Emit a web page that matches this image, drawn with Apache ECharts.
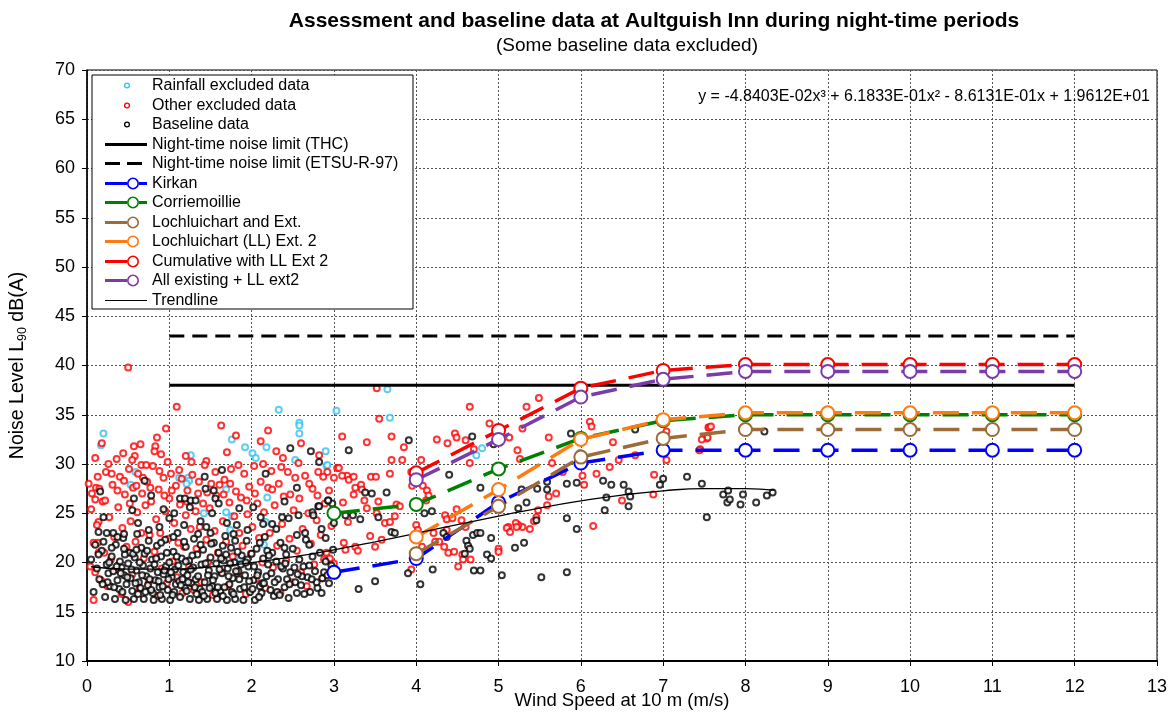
<!DOCTYPE html>
<html>
<head>
<meta charset="utf-8">
<script src="https://cdn.jsdelivr.net/npm/echarts@6/dist/echarts.min.js"></script>
<style>
  html, body { margin: 0; padding: 0; background: #fff; }
  #chart { width: 1171px; height: 713px; }
</style>
</head>
<body>
<div id="chart"></div>
<script>
// ---- Axis ticks ----
const windTicks = [0, 1, 2, 3, 4, 5, 6, 7, 8, 9, 10, 11, 12, 13];
const levelTicks = [10, 15, 20, 25, 30, 35, 40, 45, 50, 55, 60, 65, 70];

// ---- Noise limits (wind speed range and level) ----
const limitSpeeds = [1, 12];
const limitTHC = [38, 38];
const limitETSU = [43, 43];

// ---- Predicted turbine noise at integer wind speeds ----
const assessSpeeds = [3, 4, 5, 6, 7, 8, 9, 10, 11, 12];
const kirkan        = [19.0, 20.4, 26.1, 30.1, 31.4, 31.4, 31.4, 31.4, 31.4, 31.4];
const corriemoillie = [25.0, 25.9, 29.5, 32.6, 34.4, 35.0, 35.0, 35.0, 35.0, 35.0];
const lochluichart  = [null, 20.9, 25.7, 30.7, 32.6, 33.5, 33.5, 33.5, 33.5, 33.5];
const llExt2        = [null, 22.6, 27.4, 32.5, 34.5, 35.2, 35.2, 35.2, 35.2, 35.2];
const cumulative    = [null, 29.1, 33.4, 37.7, 39.5, 40.1, 40.1, 40.1, 40.1, 40.1];
const allExisting   = [null, 28.4, 32.5, 36.8, 38.6, 39.4, 39.4, 39.4, 39.4, 39.4];

// ---- Trendline: the fitted cubic from the equation label, tabulated ----
const trendEquation = 'y = -4.8403E-02x\u00B3 + 6.1833E-01x\u00B2 - 8.6131E-01x + 1.9612E+01';
const trendSpeeds = [0.05, 0.5, 1, 1.5, 2, 2.5, 3, 3.5, 4, 4.5, 5, 5.5, 6, 6.5, 7, 7.5, 8, 8.35];
const trendLevels = [19.57, 19.33, 19.32, 19.55, 19.98, 20.57, 21.29, 22.10, 22.96, 23.85, 24.71, 25.53, 26.25, 26.85, 27.28, 27.51, 27.51, 27.35];

// ---- Measured data: [wind speed, L90] ----
const rainfallExcluded = [
  [0.2,33.1],[0.17,31.9],[0.53,27.9],[0.59,29.2],[1.12,28.6],[1.23,28.6],[1.24,28.3],[1.21,28.0],
  [1.26,30.9],[1.42,25.0],[1.69,27.4],[1.69,25.1],[1.76,24.7],[1.74,23.3],[1.76,32.5],[1.86,20.4],
  [1.92,31.7],[2.01,31.1],[2.05,30.6],[2.15,21.8],[2.17,24.1],[2.18,31.7],[2.19,26.6],[2.33,35.5],
  [2.53,30.4],[2.58,34.2],[2.58,33.9],[2.58,33.1],[2.9,31.3],[2.91,29.8],[2.92,29.9],[3.03,35.4],
  [3.65,37.6],[3.68,34.7],[4.73,30.9],[4.8,31.6]
];

const otherExcluded = [
  [0.5,39.8],[1.09,35.8],[0.18,32.1],[0.96,33.6],[1.63,33.9],[1.81,32.9],[2.11,32.3],[2.2,33.4],
  [0.36,30.5],[0.44,31.1],[0.57,31.8],[0.65,32.0],[0.58,30.8],[0.83,31.8],[0.85,32.7],[0.82,31.3],
  [0.66,29.9],[0.72,29.9],[0.98,30.2],[1.45,30.3],[2.38,30.6],[2.82,30.9],[3.04,29.6],[3.1,32.8],
  [0.02,28.0],[0.11,27.6],[0.1,26.4],[0.14,24.1],[0.13,22.0],[0.14,21.0],[0.04,19.6],[0.08,16.2],
  [0.05,25.4],[0.08,22.0],[0.1,19.0],[0.12,23.8],[0.15,27.5],[0.17,18.2],[0.19,26.2],[0.21,21.0],
  [0.23,29.2],[0.25,17.6],[0.27,24.6],[0.29,20.3],[0.31,27.9],[0.33,22.6],[0.35,19.3],[0.38,25.6],
  [0.4,28.7],[0.42,16.8],[0.43,23.5],[0.46,26.9],[0.48,21.6],[0.5,16.0],[0.51,29.5],[0.53,24.2],
  [0.55,18.8],[0.56,27.6],[0.59,22.1],[0.61,25.1],[0.62,29.0],[0.64,17.3],[0.66,23.0],[0.67,27.0],
  [0.69,20.4],[0.71,25.8],[0.73,28.2],[0.75,18.0],[0.76,22.8],[0.78,26.2],[0.8,29.8],[0.82,21.1],
  [0.84,24.4],[0.86,16.6],[0.87,27.4],[0.89,23.0],[0.91,19.4],[0.93,28.6],[0.95,25.2],[0.97,17.9],
  [0.99,22.4],[1.0,26.5],[1.02,29.0],[1.04,20.1],[1.06,24.0],[1.08,27.8],[1.09,18.5],[1.11,22.0],
  [1.13,25.9],[1.15,28.5],[1.16,16.9],[1.18,21.6],[1.2,24.8],[1.22,27.3],[1.24,19.6],[1.26,23.4],
  [1.28,28.9],[1.3,17.2],[1.32,25.2],[1.33,21.4],[1.35,27.0],[1.37,23.6],[1.39,18.0],[1.41,26.0],
  [1.43,29.9],[1.45,22.3],[1.47,20.0],[1.49,25.5],[1.51,28.0],[1.53,16.7],[1.55,23.2],[1.57,26.8],
  [1.59,21.0],[1.61,27.9],[1.63,19.0],[1.65,24.2],[1.67,28.4],[1.69,22.1],[1.71,17.6],[1.73,26.1],
  [1.75,29.5],[1.77,20.6],[1.79,24.7],[1.81,27.2],[1.83,18.9],[1.85,23.0],[1.87,26.6],[1.89,21.7],
  [1.91,29.0],[1.93,16.8],[1.95,24.9],[1.97,27.7],[1.99,20.9],[2.01,23.6],[2.03,29.8],[2.05,18.3],
  [2.07,26.0],[2.09,22.5],[2.11,28.2],[2.13,20.0],[2.15,25.1],[2.17,17.4],[2.2,27.6],[2.22,23.0],
  [2.24,29.3],[2.26,19.5],[2.28,25.8],[2.31,21.7],[2.33,28.0],[2.35,16.9],[2.37,23.9],[2.39,26.7],
  [2.42,20.2],[2.44,29.2],[2.46,22.4],[2.48,18.0],[2.51,25.3],[2.53,28.6],[2.55,21.2],[2.58,26.5],
  [2.6,19.0],[2.62,23.4],[2.65,28.8],[2.67,17.6],[2.69,25.0],[2.72,21.9],[2.74,27.5],[2.76,19.8],
  [2.79,24.3],[2.81,29.2],[2.84,22.8],[2.86,18.4],[2.89,26.0],[2.91,21.0],[2.94,27.3],[2.97,23.7],
  [2.99,19.2],
  [0.06,27.0],[0.13,28.7],[0.22,26.3],[0.3,29.0],[0.37,27.3],[0.45,28.3],[0.52,26.0],[0.6,27.8],
  [0.68,28.6],[0.77,27.6],[0.88,29.3],[0.94,26.8],[1.03,27.3],[1.12,29.4],[1.21,26.2],[1.27,30.2],
  [1.36,28.2],[1.46,27.1],[1.56,29.2],[1.66,26.9],[1.74,28.0],[1.84,29.9],[1.94,26.3],[2.04,27.0],
  [2.14,30.0],[2.25,27.4],[2.36,29.7],[2.47,26.9],[2.57,30.1],[2.7,28.0],[2.8,26.8],[2.92,29.2],
  [0.26,30.0],[0.55,30.4],[0.9,31.0],[1.2,30.8],[1.7,31.2],[2.3,31.3],[2.6,32.1],[0.1,30.6],
  [3.4,32.2],[3.55,34.6],[3.52,37.7],[3.7,32.8],[3.85,31.7],[4.06,30.4],[4.25,32.5],[4.38,32.1],
  [4.47,33.1],[4.49,32.7],[4.6,32.4],[4.7,31.5],[4.65,30.1],[4.65,35.8],[4.89,34.1],[5.01,32.4],
  [5.13,32.7],[5.23,31.4],[5.26,30.5],[5.34,35.8],[5.49,36.7],[5.29,33.6],[5.61,32.7],[6.11,34.3],
  [6.13,33.8],[6.39,32.2],[6.66,30.9],[6.89,28.9],[7.04,33.3],[7.45,31.5],[7.55,33.7],[7.53,32.6],
  [7.56,33.7],[7.54,32.7],[7.47,32.5],[7.44,31.4],[6.15,23.7],[6.04,27.9],[6.02,28.8],
  [5.7,27.0],[5.59,25.8],[5.48,25.3],[5.46,24.6],[5.43,24.2],[5.38,23.4],[5.29,23.6],[5.24,23.8],
  [5.12,23.6],[5.0,21.4],[5.0,21.1],[5.1,23.5],[5.14,23.1],[5.21,24.0],[5.22,23.6],
  [4.56,20.8],[4.57,20.3],[4.51,19.6],[4.66,20.3],[4.34,21.6],[4.39,21.0],[4.46,21.1],
  [4.35,24.8],[4.37,24.4],[4.44,24.5],[4.49,25.4],[4.37,23.3],[4.55,24.3],[4.6,23.6],
  [4.21,23.0],[4.23,22.1],[4.28,22.1],[4.0,23.8],[4.02,23.3],[4.08,27.8],[4.13,27.3],[4.15,26.8],
  [4.12,26.3],[3.94,29.2],[3.97,28.3],[3.95,27.8],[3.76,25.9],[3.8,25.7],[3.74,24.7],[3.62,24.0],
  [3.68,24.1],[3.54,26.2],[3.52,25.0],[3.37,26.3],[3.4,25.5],[3.16,28.8],[3.18,28.4],[3.1,28.8],
  [3.24,28.7],[3.26,27.6],[3.33,27.9],[3.34,27.4],[3.24,26.9],[3.45,28.7],[3.51,28.7],[3.11,26.1],
  [3.17,24.1],[3.06,29.6],[2.87,28.7],[3.0,28.6],[3.68,29.0],[3.83,30.4],[3.7,30.4],
  [3.12,22.0],[3.14,21.3],[3.26,21.6],[3.29,21.2],[3.0,19.9],[2.95,20.4],[2.88,20.3],
  [3.44,22.7],[3.58,22.3],[3.5,21.6],[4.03,20.9],[4.07,21.6],[3.94,19.3],
  [5.65,30.1],[5.78,29.2],[5.61,26.7],[6.46,30.4],[6.19,29.0],[6.35,29.7],[6.88,26.9],[7.04,30.4],
  [7.58,33.8],[6.5,26.3],[5.99,31.1]
];

const baselineData = [
  [0.05,20.3],[0.08,17.0],[0.12,19.4],[0.15,18.3],[0.18,21.2],[0.2,22.1],[0.22,16.5],[0.24,19.8],
  [0.26,18.9],[0.28,17.6],[0.3,20.6],[0.32,19.1],[0.34,16.3],[0.35,21.8],[0.37,18.2],[0.39,17.3],
  [0.4,20.1],[0.42,19.5],[0.44,22.5],[0.45,18.7],[0.47,16.2],[0.48,17.8],[0.5,19.9],[0.52,21.0],
  [0.53,18.4],[0.55,17.1],[0.57,16.3],[0.58,20.5],[0.6,19.2],[0.61,22.9],[0.63,18.0],[0.65,17.4],
  [0.66,21.5],[0.68,19.7],[0.69,16.3],[0.7,20.9],[0.72,18.6],[0.74,17.7],[0.75,23.3],[0.77,19.4],
  [0.79,20.3],[0.8,16.9],[0.81,16.2],[0.83,18.2],[0.85,21.7],[0.86,19.0],[0.88,17.5],[0.9,20.6],
  [0.91,16.3],[0.93,18.8],[0.95,22.3],[0.96,19.6],[0.98,17.2],[1.0,20.0],[1.01,16.2],[1.03,18.5],
  [1.05,21.1],[1.07,19.3],[1.08,17.8],[1.1,23.0],[1.12,18.1],[1.13,16.5],[1.15,20.4],[1.17,19.0],
  [1.19,17.4],[1.2,21.6],[1.22,18.7],[1.24,20.2],[1.25,16.3],[1.27,17.9],[1.29,19.5],[1.3,22.4],
  [1.32,18.3],[1.34,20.8],[1.36,16.2],[1.37,17.3],[1.39,19.8],[1.41,21.3],[1.43,18.0],[1.45,23.6],
  [1.46,16.3],[1.48,19.2],[1.5,20.5],[1.52,17.6],[1.54,22.0],[1.55,18.6],[1.57,19.9],[1.58,16.3],
  [1.6,21.0],[1.62,17.1],[1.64,18.9],[1.66,20.2],[1.68,22.7],[1.7,16.2],[1.71,19.4],[1.73,17.8],
  [1.75,21.5],[1.77,18.4],[1.79,20.0],[1.8,16.3],[1.82,23.8],[1.84,19.1],[1.86,17.3],[1.88,20.7],
  [1.9,16.2],[1.92,18.7],[1.94,22.2],[1.96,19.6],[1.98,17.0],[2.0,20.9],[2.02,18.2],[2.04,16.2],
  [2.06,21.4],[2.08,19.0],[2.1,17.6],[2.12,16.9],[2.14,20.4],[2.16,22.6],[2.18,18.6],[2.2,19.8],
  [2.23,17.2],[2.25,21.0],[2.27,16.6],[2.3,20.1],[2.32,18.3],[2.35,22.0],[2.38,19.4],[2.4,17.5],
  [2.42,20.8],[2.45,16.4],[2.47,19.0],[2.5,21.4],[2.53,18.0],[2.55,16.9],[2.58,20.3],[2.6,17.7],
  [2.63,19.6],[2.66,22.3],[2.68,18.5],[2.71,17.0],[2.74,20.6],[2.77,19.1],[2.8,17.4],[2.83,21.0],
  [2.86,18.4],[2.9,20.1],[2.94,17.9],[2.97,19.7],
  [0.14,20.8],[0.25,18.0],[0.33,17.5],[0.41,18.9],[0.46,20.8],[0.54,19.3],[0.59,17.9],[0.64,20.0],
  [0.71,17.0],[0.76,18.3],[0.82,19.8],[0.87,18.1],[0.92,17.6],[0.97,21.0],[1.02,19.0],[1.06,17.0],
  [1.11,19.7],[1.16,18.3],[1.21,17.1],[1.26,19.3],[1.31,17.5],[1.35,18.6],[1.4,17.0],[1.44,19.9],
  [1.49,17.4],[1.53,18.2],[1.59,17.5],[1.63,20.4],[1.67,17.5],[1.72,18.6],[1.76,17.0],[1.81,19.1],
  [1.85,18.3],[1.91,17.5],[1.95,20.3],[2.01,17.3],[2.07,18.7],[2.13,17.9],[2.19,21.2],[2.24,18.9],
  [2.31,17.0],[2.36,19.6],[2.43,18.3],[2.52,19.5],[2.61,18.6],[2.7,19.7],[2.79,18.0],[2.88,19.0],
  [0.1,21.8],[0.19,17.8],[0.27,20.0],[0.36,19.6],[0.43,17.0],[0.49,18.5],[0.56,20.9],[0.62,16.8],
  [0.67,18.7],[0.73,21.2],[0.78,17.2],[0.84,20.4],[0.89,16.7],[0.94,19.2],[0.99,18.3],[1.04,16.7],
  [1.09,20.6],[1.14,17.7],[1.18,22.1],[1.23,18.0],[1.28,20.7],[1.33,16.8],[1.38,21.8],[1.42,16.6],
  [1.47,18.7],[1.51,21.9],[1.56,16.9],[1.61,19.3],[1.65,16.6],[1.69,20.8],[1.74,19.9],[1.78,16.8],
  [1.83,21.1],[1.87,19.8],[1.93,20.0],[1.97,18.1],[2.03,19.6],[2.09,16.5],[2.15,17.9],[2.21,20.7],
  [2.28,18.0],[2.34,16.7],[2.41,19.9],[2.46,17.8],[2.56,18.8],[2.64,16.8],[2.73,18.3],[2.85,16.9],
  [2.92,18.7],[2.99,21.3],[0.6,21.3],[0.9,22.0],[1.2,20.1],[1.5,23.0],[1.8,22.2],[2.1,22.0],
  [2.4,21.5],[2.7,21.8],[0.3,21.5],[0.45,21.4],[0.75,22.2],[1.05,22.6],[1.35,22.9],[1.65,21.7],
  [1.95,23.3],[2.25,23.9],[2.55,22.8],[2.85,23.4],
  [0.14,23.1],[0.24,23.0],[0.32,23.0],[0.37,22.6],[0.45,22.9],[0.2,24.6],[0.16,27.2],[0.57,26.5],
  [0.7,28.3],[0.93,25.4],[1.06,25.0],[1.13,26.5],[1.19,26.5],[1.26,26.3],[1.32,26.3],[1.25,25.6],
  [1.43,28.7],[1.44,27.5],[1.54,27.3],[1.56,26.5],[1.64,29.4],[2.17,29.0],[2.02,25.6],[2.11,24.6],
  [2.14,23.9],[2.37,24.6],[2.45,24.5],[2.57,24.8],[2.55,27.6],[2.47,31.6],[2.72,31.3],[2.82,30.2],
  [2.81,25.7],[2.93,26.3],[2.98,26.0],[0.62,24.0],[0.88,23.6],[1.0,24.5],[1.18,23.8],[1.38,24.2],
  [1.52,25.0],[1.7,24.0],[1.85,25.5],[1.78,22.9],[2.3,23.4],[2.65,23.0],[2.9,22.5],[0.55,25.3],
  [0.78,26.8],[1.6,26.0],[2.4,26.2],
  [3.18,31.4],[3.91,32.4],[4.68,32.8],[4.94,32.0],[4.4,28.9],[4.78,27.6],[3.38,27.1],[3.46,27.0],
  [3.64,27.1],[2.82,25.7],[2.74,25.1],[2.75,24.8],[2.93,26.3],[3.0,24.0],[3.14,24.8],[3.23,24.8],
  [3.32,24.4],[3.54,24.6],[4.1,25.0],[4.19,25.2],[3.7,23.1],[3.74,23.0],[4.33,23.0],[4.37,22.6],
  [4.61,22.2],[4.63,21.7],[4.65,21.4],[4.59,20.9],[4.69,22.8],[4.74,23.0],[4.78,23.0],[4.91,22.5],
  [4.86,20.8],[4.91,20.4],[4.7,19.2],[4.78,19.2],[5.04,18.7],[5.31,22.0],[5.2,21.5],[5.24,25.5],
  [5.34,26.1],[5.28,27.4],[5.47,27.5],[5.59,27.4],[5.46,24.3],[5.59,28.2],[5.83,28.0],[5.95,28.1],
  [5.83,24.5],[5.95,23.4],[5.83,19.0],[5.52,18.5],[5.88,33.1],[6.27,28.3],[6.37,27.9],[6.52,27.9],
  [6.58,27.2],[6.6,26.7],[6.58,25.7],[6.31,26.6],[6.29,25.3],[6.66,33.5],[6.96,27.9],[7.0,28.5],
  [7.29,28.7],[7.47,28.0],[7.53,24.6],[7.73,26.9],[7.78,26.1],[7.81,26.4],[7.79,27.3],[7.94,25.9],
  [7.97,26.9],[8.13,26.1],[8.26,26.8],[8.33,27.1],[8.23,33.3],[3.5,18.1],[3.9,18.9],[4.2,19.3],
  [3.3,17.3],[4.05,17.8]
];

const FONT = 'Liberation Sans, Arial, sans-serif';
const COL = {
  rain: '#33c2f2', other: '#ff0000', base: '#000000',
  kirkan: '#0000ff', corrie: '#008000', loch: '#9c6b3a', ext2: '#ff7a10', cum: '#ff0000', all: '#7a3ca8'
};
const DASH = [26, 13];

function zip(xs, ys) { return xs.map((x, i) => [x, ys[i]]); }

function scatter(name, data, color) {
  return {
    name, type: 'scatter', data,
    symbol: 'emptyCircle', symbolSize: 6,
    itemStyle: { color, borderColor: color, borderWidth: 1.3 },
    silent: true
  };
}

function assessLine(name, values, color) {
  return {
    name, type: 'line', data: zip(assessSpeeds, values),
    symbol: 'emptyCircle', symbolSize: 13, showAllSymbol: true,
    connectNulls: false,
    lineStyle: { color, width: 3.5, type: DASH, cap: 'butt' },
    itemStyle: { color, borderColor: color, borderWidth: 1.6 },
    silent: true
  };
}

// ---- Legend panel drawn as graphic elements ----
const legendRows = [
  { label: 'Rainfall excluded data', kind: 'dot', color: COL.rain },
  { label: 'Other excluded data', kind: 'dot', color: COL.other },
  { label: 'Baseline data', kind: 'dot', color: COL.base },
  { label: 'Night-time noise limit (THC)', kind: 'solid', color: '#000', width: 3 },
  { label: 'Night-time noise limit (ETSU-R-97)', kind: 'dash', color: '#000', width: 3 },
  { label: 'Kirkan', kind: 'markerDash', color: COL.kirkan },
  { label: 'Corriemoillie', kind: 'markerDash', color: COL.corrie },
  { label: 'Lochluichart and Ext.', kind: 'marker', color: COL.loch },
  { label: 'Lochluichart (LL) Ext. 2', kind: 'marker', color: COL.ext2 },
  { label: 'Cumulative with LL Ext 2', kind: 'marker', color: COL.cum },
  { label: 'All existing + LL ext2', kind: 'marker', color: COL.all },
  { label: 'Trendline', kind: 'solid', color: '#000', width: 1.2 }
];
const legendBox = { x: 92, y: 75, w: 321, h: 234 };
const legendRowY0 = 85, legendRowStep = 19.5, iconL = 105, iconR = 147, textX = 152;

function buildLegend() {
  const els = [{
    type: 'rect', shape: { x: legendBox.x, y: legendBox.y, width: legendBox.w, height: legendBox.h },
    style: { fill: '#fff', stroke: '#000', lineWidth: 1 }, z: 100
  }];
  legendRows.forEach((r, i) => {
    const y = Math.round(legendRowY0 + i * legendRowStep) + 0.5;
    const mid = 127;
    if (r.kind === 'dot') {
      els.push({ type: 'circle', shape: { cx: mid, cy: y, r: 2.4 }, style: { fill: '#fff', stroke: r.color, lineWidth: 1.3 }, z: 101 });
    } else if (r.kind === 'solid') {
      els.push({ type: 'line', shape: { x1: iconL, y1: y, x2: iconR, y2: y }, style: { stroke: r.color, lineWidth: r.width }, z: 101 });
    } else if (r.kind === 'dash') {
      els.push({ type: 'line', shape: { x1: iconL, y1: y, x2: iconR, y2: y }, style: { stroke: r.color, lineWidth: r.width, lineDash: [15, 7] }, z: 101 });
    } else {
      els.push({ type: 'line', shape: { x1: iconL, y1: y, x2: mid, y2: y }, style: { stroke: r.color, lineWidth: 3 }, z: 101 });
      if (r.kind === 'markerDash') {
        els.push({ type: 'line', shape: { x1: 139, y1: y, x2: iconR, y2: y }, style: { stroke: r.color, lineWidth: 3 }, z: 101 });
      }
      els.push({ type: 'circle', shape: { cx: mid + 6, cy: y, r: 5.2 }, style: { fill: '#fff', stroke: r.color, lineWidth: 1.6 }, z: 102 });
    }
    els.push({
      type: 'text', x: textX, y: y,
      style: { text: r.label, font: '16px ' + FONT, fill: '#000', textVerticalAlign: 'middle', textAlign: 'left' },
      z: 102
    });
  });
  return els;
}

const chart = echarts.init(document.getElementById('chart'), null, { renderer: 'canvas' });

chart.setOption({
  animation: false,
  backgroundColor: '#fff',
  textStyle: { fontFamily: FONT },
  title: [
    { text: 'Assessment and baseline data at Aultguish Inn during night-time periods',
      left: 649, top: 6, textAlign: 'center',
      textStyle: { fontFamily: FONT, fontSize: 21, fontWeight: 'bold', color: '#000' } },
    { text: '(Some baseline data excluded)',
      left: 622, top: 31, textAlign: 'center',
      textStyle: { fontFamily: FONT, fontSize: 19, fontWeight: 'normal', color: '#000' } }
  ],
  grid: {
    left: 87, right: 14, top: 70, bottom: 52,
    containLabel: false, outerBoundsMode: 'none',
    show: true, borderColor: '#000', borderWidth: 1
  },
  xAxis: {
    type: 'value', min: windTicks[0], max: windTicks[windTicks.length - 1], interval: 1,
    name: 'Wind Speed at 10 m (m/s)', nameLocation: 'middle', nameGap: 30, nameMoveOverlap: false,
    nameTextStyle: { fontFamily: FONT, fontSize: 18.5, color: '#000' },
    axisLine: { show: true, onZero: false, lineStyle: { color: '#000', width: 2 } },
    axisTick: { show: true, length: 5, lineStyle: { color: '#000' } },
    axisLabel: { fontFamily: FONT, fontSize: 18, color: '#000', margin: 17 },
    splitLine: { show: true, lineStyle: { color: '#555', type: [2, 2], width: 1 } }
  },
  yAxis: {
    type: 'value', min: levelTicks[0], max: levelTicks[levelTicks.length - 1], interval: 5,
    name: '{n|Noise Level L}{s|90}{n| dB(A)}', nameLocation: 'middle', nameGap: 58, nameRotate: 90,
    nameMoveOverlap: false,
    nameTextStyle: {
      fontFamily: FONT, color: '#000',
      rich: {
        n: { fontFamily: FONT, fontSize: 19.5, color: '#000' },
        s: { fontFamily: FONT, fontSize: 12.5, color: '#000', verticalAlign: 'bottom', padding: [9, 0, 0, 0] }
      }
    },
    axisLine: { show: true, lineStyle: { color: '#000', width: 1.5 } },
    axisTick: { show: true, length: 5, lineStyle: { color: '#000' } },
    axisLabel: { fontFamily: FONT, fontSize: 18, color: '#000', margin: 12 },
    splitLine: { show: true, lineStyle: { color: '#555', type: [2, 2], width: 1 } }
  },
  series: [
    scatter('Rainfall excluded data', rainfallExcluded, COL.rain),
    scatter('Other excluded data', otherExcluded, COL.other),
    scatter('Baseline data', baselineData, COL.base),
    {
      name: 'Night-time noise limit (THC)', type: 'line', data: zip(limitSpeeds, limitTHC),
      symbol: 'none', lineStyle: { color: '#000', width: 3 }, silent: true
    },
    {
      name: 'Night-time noise limit (ETSU-R-97)', type: 'line', data: zip(limitSpeeds, limitETSU),
      symbol: 'none', lineStyle: { color: '#000', width: 3, type: [15, 8] }, silent: true
    },
    assessLine('Kirkan', kirkan, COL.kirkan),
    assessLine('Corriemoillie', corriemoillie, COL.corrie),
    assessLine('Lochluichart and Ext.', lochluichart, COL.loch),
    assessLine('Lochluichart (LL) Ext. 2', llExt2, COL.ext2),
    assessLine('Cumulative with LL Ext 2', cumulative, COL.cum),
    assessLine('All existing + LL ext2', allExisting, COL.all),
    {
      name: 'Trendline', type: 'line', data: zip(trendSpeeds, trendLevels),
      symbol: 'none', smooth: true, lineStyle: { color: '#000', width: 1.3 }, silent: true, z: 3
    }
  ],
  graphic: [
    ...buildLegend(),
    {
      type: 'text', x: 1150, y: 97,
      style: { text: trendEquation, font: '16px ' + FONT, fill: '#000', textAlign: 'right', textVerticalAlign: 'middle' },
      z: 100
    }
  ]
});
</script>
</body>
</html>
